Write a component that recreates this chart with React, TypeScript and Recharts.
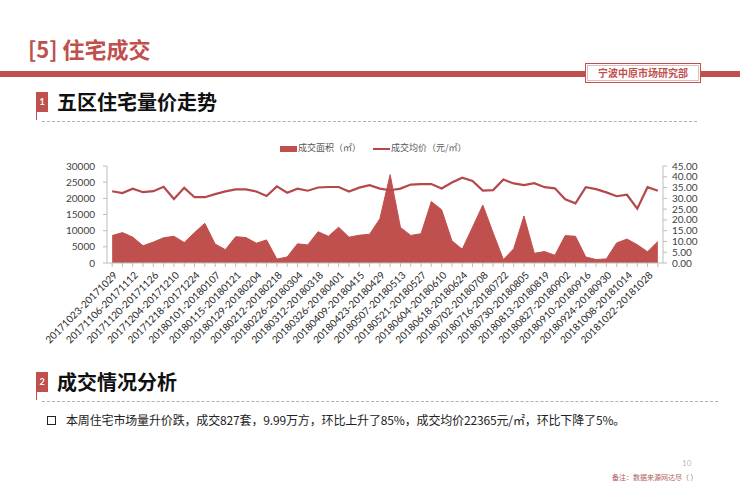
import React from 'react';
import { ComposedChart, Area, Line, XAxis, YAxis } from 'recharts';

const categories = [
  '20171023-20171029', '20171030-20171105', '20171106-20171112', '20171113-20171119', '20171120-20171126',
  '20171127-20171203', '20171204-20171210', '20171211-20171217', '20171218-20171224', '20171225-20171231',
  '20180101-20180107', '20180108-20180114', '20180115-20180121', '20180122-20180128', '20180129-20180204',
  '20180205-20180211', '20180212-20180218', '20180219-20180225', '20180226-20180304', '20180305-20180311',
  '20180312-20180318', '20180319-20180325', '20180326-20180401', '20180402-20180408', '20180409-20180415',
  '20180416-20180422', '20180423-20180429', '20180430-20180506', '20180507-20180513', '20180514-20180520',
  '20180521-20180527', '20180528-20180603', '20180604-20180610', '20180611-20180617', '20180618-20180624',
  '20180625-20180701', '20180702-20180708', '20180709-20180715', '20180716-20180722', '20180723-20180729',
  '20180730-20180805', '20180806-20180812', '20180813-20180819', '20180820-20180826', '20180827-20180902',
  '20180903-20180909', '20180910-20180916', '20180917-20180923', '20180924-20180930', '20181001-20181007',
  '20181008-20181014', '20181015-20181021', '20181022-20181028', '20181029-20181104',
];

// 成交面积（万㎡）— right axis
const areaValues = [
  12.7, 14.1, 12.0, 8.0, 9.7, 11.7, 12.4, 9.5, 14.1, 18.4,
  8.8, 6.2, 12.2, 11.8, 9.2, 10.7, 1.8, 2.8, 8.9, 8.4,
  14.5, 12.4, 16.6, 12.0, 12.9, 13.3, 20.5, 41.0, 16.5, 12.8,
  13.6, 28.5, 24.7, 10.3, 6.4, 16.6, 26.9, 14.0, 1.6, 6.6,
  21.8, 4.5, 5.3, 3.6, 12.7, 12.4, 2.8, 1.6, 1.9, 9.3,
  11.1, 8.5, 5.2, 9.99,
];

// 成交均价（元/㎡）— left axis
const priceValues = [
  22200, 21650, 23000, 21900, 22200, 23550, 19800, 23250, 20350, 20350,
  21300, 22130, 22750, 22750, 22100, 20700, 23700, 21750, 23000, 22350,
  23350, 23500, 23500, 22100, 23300, 24050, 23000, 22500, 23000, 24250,
  24400, 24400, 23050, 24900, 26400, 25400, 22400, 22550, 25800, 24600,
  24100, 24700, 23450, 23100, 19700, 18450, 23450, 22850, 21850, 20650,
  21100, 16800, 23450, 22365,
];

const leftTicks = [0, 5000, 10000, 15000, 20000, 25000, 30000];
const rightTicks = [0, 5, 10, 15, 20, 25, 30, 35, 40, 45];

const seriesNames = ['成交面积（㎡）', '成交均价（元/㎡）'];

const data = categories.map((c, i) => ({ name: c, area: areaValues[i], price: priceValues[i] }));

const RED = '#c0504d';
const LINE = '#b4484a';
const AXIS = '#bdbdbd';
const FONT = "Lato, 'Noto Sans CJK SC', sans-serif";
const CJK = "'Noto Sans CJK SC', sans-serif";

const XTick = (props: any) => {
  const { x, y, payload, index } = props;
  if (index % 2 !== 0) return null;
  const tx = x + 3;
  const ty = y + 4;
  return (
    <text
      x={tx}
      y={ty}
      transform={`rotate(-45, ${tx}, ${ty})`}
      textAnchor="end"
      dominantBaseline="central"
      fontSize={10}
      fill="#262626"
      fontFamily={FONT}
    >
      {payload.value}
    </text>
  );
};

const SectionHead = ({ n, text, top, lineWidth }: { n: string; text: string; top: number; lineWidth: number }) => (
  <>
    <div style={{ position: 'absolute', left: 36, top, width: 12, height: 20, background: RED, color: '#fff', fontSize: 9, fontFamily: FONT, fontWeight: 700, textAlign: 'center', lineHeight: '20px' }}>{n}</div>
    <div style={{ position: 'absolute', left: 36, top: top + 20, width: 1, height: 8, background: RED }} />
    <div style={{ position: 'absolute', left: 57, top: top - 4, fontSize: 20, fontWeight: 700, fontFamily: CJK, color: '#111', lineHeight: '28px', whiteSpace: 'nowrap' }}>{text}</div>
    <div style={{ position: 'absolute', left: 42, top: top + 29, width: lineWidth, height: 0, borderTop: '1px dashed #b0b0b0' }} />
  </>
);

export default function App() {
  return (
    <div style={{ position: 'absolute', left: 0, top: 0, width: 740, height: 493, background: '#fff', overflow: 'hidden', fontFamily: CJK }}>
      {/* Title */}
      <div style={{ position: 'absolute', left: 28, top: 33, fontSize: 22, fontWeight: 700, color: RED, fontFamily: CJK, lineHeight: '30px', whiteSpace: 'nowrap' }}>[5] 住宅成交</div>
      <div style={{ position: 'absolute', left: 0, top: 71, width: 740, height: 6, background: RED }} />
      <div style={{ position: 'absolute', left: 585, top: 63, width: 114, height: 18, background: '#fff', border: `1px solid ${RED}`, boxShadow: `inset 0 0 0 1px #fff, inset 0 0 0 2px #e8b8b6`, color: RED, fontSize: 10, lineHeight: '18px', textAlign: 'center', fontFamily: CJK, fontWeight: 700 }}>宁波中原市场研究部</div>

      <SectionHead n="1" text="五区住宅量价走势" top={92} lineWidth={655} />

      {/* Legend */}
      <div style={{ position: 'absolute', left: 280, top: 146, width: 17, height: 6, background: RED }} />
      <div style={{ position: 'absolute', left: 298, top: 141, fontSize: 9, color: '#595959', lineHeight: '14px', whiteSpace: 'nowrap', fontFamily: CJK }}>{seriesNames[0]}</div>
      <div style={{ position: 'absolute', left: 373, top: 148, width: 17, height: 2, background: LINE }} />
      <div style={{ position: 'absolute', left: 391, top: 141, fontSize: 9, color: '#595959', lineHeight: '14px', whiteSpace: 'nowrap', fontFamily: CJK }}>{seriesNames[1]}</div>

      <div style={{ position: 'absolute', left: 0, top: 130 }}>
        <ComposedChart width={740} height={230} data={data} margin={{ top: 36, right: 27, left: 57, bottom: 7 }}>
          <XAxis
            dataKey="name"
            interval={0}
            tick={<XTick />}
            height={90}
            padding={{ left: 5.15, right: 5.15 }}
            axisLine={{ stroke: AXIS }}
            tickLine={{ stroke: AXIS }}
            tickSize={4}
          />
          <YAxis
            yAxisId="left"
            domain={[0, 30000]}
            ticks={leftTicks}
            width={50}
            axisLine={{ stroke: AXIS }}
            tickLine={{ stroke: AXIS }}
            tickSize={4}
            tickMargin={8}
            tick={{ fontSize: 10, fill: '#404040', fontFamily: FONT }}
            interval={0}
          />
          <YAxis
            yAxisId="right"
            orientation="right"
            domain={[0, 45]}
            ticks={rightTicks}
            width={50}
            axisLine={{ stroke: AXIS }}
            tickLine={{ stroke: AXIS }}
            tickSize={4}
            tickMargin={5}
            tick={{ fontSize: 10, fill: '#404040', fontFamily: FONT }}
            tickFormatter={(v: number) => v.toFixed(2)}
            interval={0}
          />
          <Area yAxisId="right" type="linear" dataKey="area" fill={RED} fillOpacity={1} stroke={RED} strokeWidth={1} dot={false} activeDot={false} isAnimationActive={false} />
          <Line yAxisId="left" type="linear" dataKey="price" stroke={LINE} strokeWidth={2.2} dot={false} activeDot={false} isAnimationActive={false} />
        </ComposedChart>
      </div>

      <SectionHead n="2" text="成交情况分析" top={372} lineWidth={676} />

      <div style={{ position: 'absolute', left: 47, top: 416, width: 7, height: 7, border: '1.5px solid #222' }} />
      <div style={{ position: 'absolute', left: 66, top: 411, fontSize: 12, letterSpacing: -0.15, color: '#222', lineHeight: '18px', whiteSpace: 'nowrap', fontFamily: CJK }}>
        本周住宅市场量升价跌，成交827套，9.99万方，环比上升了85%，成交均价22365元/㎡，环比下降了5%。
      </div>

      <div style={{ position: 'absolute', left: 682, top: 458, fontSize: 8, color: '#b8b8b8', lineHeight: '10px', fontFamily: FONT }}>10</div>
      <div style={{ position: 'absolute', left: 612, top: 471, fontSize: 7, color: '#b06060', lineHeight: '12px', whiteSpace: 'nowrap', fontFamily: CJK }}>备注：数据来源网达尽（ ）</div>
    </div>
  );
}
